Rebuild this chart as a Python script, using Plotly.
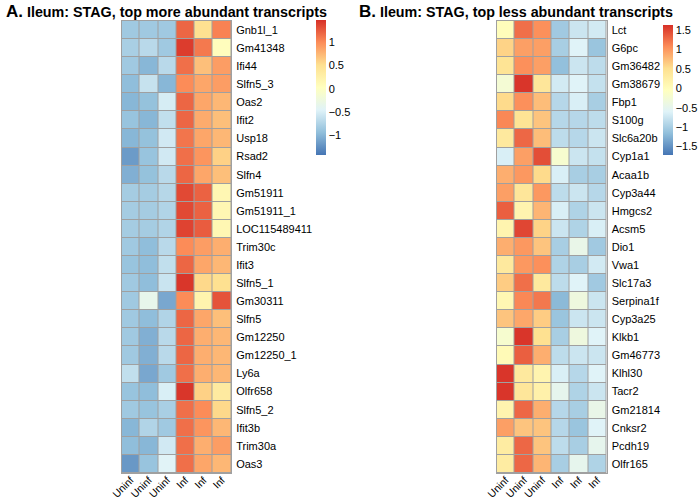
import plotly.graph_objects as go

samples = ["Uninf", "Uninf", "Uninf", "Inf", "Inf", "Inf"]

genes_a = ["Gnb1l_1", "Gm41348", "Ifi44", "Slfn5_3", "Oas2", "Ifit2", "Usp18", "Rsad2",
           "Slfn4", "Gm51911", "Gm51911_1", "LOC115489411", "Trim30c", "Ifit3", "Slfn5_1",
           "Gm30311", "Slfn5", "Gm12250", "Gm12250_1", "Ly6a", "Olfr658", "Slfn5_2",
           "Ifit3b", "Trim30a", "Oas3"]
z_a = [
    [-0.85, -0.85, -0.85, 1.20, 0.50, 1.05],
    [-0.80, -0.70, -0.85, 1.42, 1.10, 0.05],
    [-0.85, -1.00, -0.70, 1.15, 0.70, 0.90],
    [-0.95, -0.62, -1.00, 1.00, 0.85, 0.90],
    [-1.00, -0.92, -0.52, 1.20, 0.85, 0.75],
    [-0.90, -1.00, -0.65, 1.20, 0.82, 0.70],
    [-1.00, -0.92, -0.55, 1.12, 0.85, 0.75],
    [-1.18, -0.90, -0.55, 1.15, 0.95, 0.60],
    [-1.05, -0.92, -0.70, 1.20, 0.85, 0.70],
    [-0.82, -0.82, -0.72, 1.35, 1.22, 0.15],
    [-0.82, -0.82, -0.75, 1.35, 1.22, 0.15],
    [-0.82, -0.82, -0.75, 1.38, 1.25, 0.15],
    [-0.85, -0.95, -0.70, 1.00, 0.90, 0.80],
    [-0.90, -0.95, -0.65, 1.20, 0.85, 0.75],
    [-0.85, -0.95, -0.60, 1.45, 0.55, 0.50],
    [-0.85, -0.35, -1.10, 1.00, 0.20, 1.30],
    [-0.85, -0.95, -0.75, 1.20, 0.85, 0.70],
    [-0.85, -1.05, -0.70, 1.20, 0.80, 0.75],
    [-0.85, -1.05, -0.70, 1.20, 0.80, 0.75],
    [-0.65, -1.10, -0.85, 1.15, 0.80, 0.75],
    [-0.90, -0.95, -0.50, 1.45, 0.60, 0.35],
    [-0.85, -0.90, -0.80, 1.15, 1.00, 0.55],
    [-1.00, -0.75, -0.85, 1.15, 0.95, 0.75],
    [-0.95, -1.00, -0.55, 1.15, 0.80, 0.90],
    [-1.20, -0.90, -0.45, 1.15, 0.85, 0.75],
]

genes_b = ["Lct", "G6pc", "Gm36482", "Gm38679", "Fbp1", "S100g", "Slc6a20b", "Cyp1a1",
           "Acaa1b", "Cyp3a44", "Hmgcs2", "Acsm5", "Dio1", "Vwa1", "Slc17a3", "Serpina1f",
           "Cyp3a25", "Klkb1", "Gm46773", "Klhl30", "Tacr2", "Gm21814", "Cnksr2", "Pcdh19",
           "Olfr165"]
z_b = [
    [0.00, 1.25, 1.05, -1.05, -0.75, -0.70],
    [0.60, 0.95, 0.95, -1.00, -0.60, -1.10],
    [0.45, 1.05, 0.95, -1.15, -0.75, -0.85],
    [-0.25, 1.60, 0.40, -0.70, -0.60, -0.80],
    [0.55, 1.05, 0.75, -0.90, -0.65, -1.00],
    [1.10, 0.45, 0.70, -0.90, -0.90, -0.85],
    [0.35, 1.30, 0.75, -0.85, -0.90, -0.75],
    [-0.65, 0.95, 1.45, -0.20, -0.75, -0.80],
    [0.85, 1.00, 0.55, -0.65, -1.00, -1.00],
    [0.95, 0.40, 1.00, -0.85, -0.75, -0.90],
    [1.35, 0.15, 0.80, -0.65, -0.95, -0.75],
    [0.15, 1.50, 0.60, -0.75, -0.95, -0.65],
    [0.85, 1.00, 0.70, -1.00, -0.45, -1.05],
    [0.35, 1.00, 1.05, -0.95, -1.00, -0.70],
    [0.65, 1.25, 0.35, -0.85, -0.60, -1.05],
    [0.10, 1.10, 1.20, -1.20, -0.35, -0.75],
    [0.70, 0.90, 0.65, -1.10, -0.75, -0.75],
    [-0.20, 1.60, 0.50, -1.00, -0.35, -0.60],
    [0.05, 1.35, 0.85, -0.85, -0.75, -0.75],
    [1.60, 0.35, 0.15, -0.65, -0.90, -0.60],
    [1.60, 0.40, 0.20, -0.50, -0.95, -0.75],
    [0.15, 1.30, 0.85, -0.90, -1.00, -0.45],
    [0.95, 0.70, 0.70, -0.90, -1.10, -0.60],
    [0.30, 1.30, 0.70, -0.85, -1.00, -0.50],
    [0.30, 1.30, 0.80, -1.00, -0.50, -0.95],
]

range_a = [-1.43, 1.48]
range_b = [-1.72, 1.63]
ticks_a = [-1, -0.5, 0, 0.5, 1]
ticks_b = [-1.5, -1, -0.5, 0, 0.5, 1, 1.5]

palette = ["#4575B4", "#91BFDB", "#E0F3F8", "#FFFFBF", "#FEE090", "#FC8D59", "#D73027"]
cscale = [[i / 6, c] for i, c in enumerate(palette)]

W, H = 700, 500
FONT = "Liberation Sans, Arial, Helvetica, sans-serif"


def fmt(v):
    s = ("%g" % v)
    return s.replace("-", "\u2212")


fig = go.Figure()

xs = list(range(len(samples)))

fig.add_trace(go.Heatmap(
    z=z_a, x=xs, y=list(range(len(genes_a))), colorscale=cscale,
    zmin=range_a[0], zmax=range_a[1], xgap=1, ygap=1,
    xaxis="x", yaxis="y",
    colorbar=dict(x=316 / W, xanchor="left", y=1 - 20 / H, yanchor="top",
                  xpad=0, ypad=0,
                  len=135, lenmode="pixels", thickness=10, thicknessmode="pixels",
                  outlinewidth=0, ticks="", tickvals=ticks_a,
                  ticktext=[fmt(v) for v in ticks_a],
                  tickfont=dict(family=FONT, size=11, color="black")),
))

fig.add_trace(go.Heatmap(
    z=z_b, x=xs, y=list(range(len(genes_b))), colorscale=cscale,
    zmin=range_b[0], zmax=range_b[1], xgap=1, ygap=1,
    xaxis="x2", yaxis="y2",
    colorbar=dict(x=663 / W, xanchor="left", y=1 - 25 / H, yanchor="top",
                  xpad=0, ypad=0,
                  len=130, lenmode="pixels", thickness=10, thicknessmode="pixels",
                  outlinewidth=0, ticks="", tickvals=ticks_b,
                  ticktext=[fmt(v) for v in ticks_b],
                  tickfont=dict(family=FONT, size=11, color="black")),
))

grey = "#A0A0A0"
xcommon = dict(tickmode="array", tickvals=xs, ticktext=samples, tickangle=-45,
               showgrid=False, zeroline=False, showline=True, mirror=True,
               linecolor=grey, linewidth=1, ticks="", ticklabelstandoff=-4,
               automargin=False,
               tickfont=dict(family=FONT, size=10.5, color="black"),
               range=[-0.5, 5.5])
ycommon = dict(tickmode="array", showgrid=False, zeroline=False, side="right",
               showline=True, mirror=True, linecolor=grey, linewidth=1, ticks="",
               ticklabelstandoff=2, automargin=False,
               tickfont=dict(family=FONT, size=11, color="black"))

ybot, ytop = 1 - 473 / H, 1 - 21 / H

fig.update_layout(
    width=W, height=H,
    margin=dict(l=0, r=0, t=0, b=0, autoexpand=False),
    paper_bgcolor="white", plot_bgcolor=grey,
    font=dict(family=FONT, color="black"),
    xaxis=dict(domain=[121.5 / W, 231 / W], anchor="y", **xcommon),
    yaxis=dict(domain=[ybot, ytop], anchor="x", tickvals=list(range(len(genes_a))),
               ticktext=genes_a, range=[len(genes_a) - 0.5, -0.5], **ycommon),
    xaxis2=dict(domain=[496.5 / W, 606.5 / W], anchor="y2", **xcommon),
    yaxis2=dict(domain=[ybot, ytop], anchor="x2", tickvals=list(range(len(genes_b))),
                ticktext=genes_b, range=[len(genes_b) - 0.5, -0.5], **ycommon),
    annotations=[
        dict(text="<b><span style='font-size:17px'>A.</span> Ileum: STAG, top more abundant transcripts</b>",
             x=4 / W, y=1 - 0 / H, xref="paper", yref="paper", xanchor="left", yanchor="top",
             showarrow=False, font=dict(family=FONT, size=14.3, color="black")),
        dict(text="<b><span style='font-size:17px'>B.</span> Ileum: STAG, top less abundant transcripts</b>",
             x=357 / W, y=1 - 0 / H, xref="paper", yref="paper", xanchor="left", yanchor="top",
             showarrow=False, font=dict(family=FONT, size=14.3, color="black")),
    ],
)

fig.write_html("out.html", config={"displayModeBar": False},
               post_script="document.body.style.margin='0';document.body.style.padding='0';")
